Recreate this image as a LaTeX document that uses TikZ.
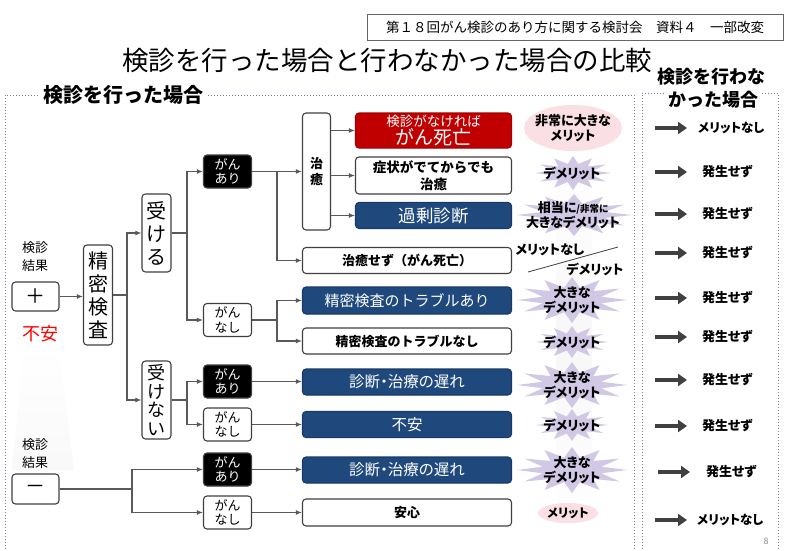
\documentclass[tikz,border=0pt]{standalone}
\usepackage{fontspec}
\setmainfont{Noto Sans CJK JP}
\newfontfamily\jpp{Noto Sans CJK JP}[RawFeature=+palt]
\usetikzlibrary{arrows.meta,shapes.geometric,calc}
\definecolor{lineC}{RGB}{64,64,64}
\definecolor{connC}{RGB}{89,89,89}
\definecolor{navy}{RGB}{31,73,125}
\definecolor{redC}{RGB}{192,0,0}
\definecolor{lav}{RGB}{208,200,228}
\definecolor{pinkC}{RGB}{250,224,228}
\definecolor{dotC}{RGB}{110,130,165}
\newcommand\fs[2]{\fontsize{#1}{#2}\selectfont}
\newcommand\burstat[4]{\fill[lav] plot[samples at={0,15,...,345}, variable=\t] ({#1+cos(\t)*#3*(1-0.45*mod(round(\t/15),2))}, {#2+sin(\t)*#4*(1-0.45*mod(round(\t/15),2))}) -- cycle;}
\begin{document}
\begin{tikzpicture}[x=1pt,y=-1pt,
  box/.style={draw=lineC, line width=1.1pt, rounded corners=3.5pt, fill=white, inner sep=0pt, align=center},
  blackbox/.style={box, fill=black, text=white},
  bluebox/.style={box, fill=navy, draw=navy!80!black, text=white},
  redbox/.style={box, fill=redC, draw=redC!85!black, text=white},
  gbox/.style={minimum width=48, minimum height=33, font=\fs{13}{14.5}},
  wide/.style={minimum width=209, minimum height=26},
  conn/.style={draw=connC, line width=1.2pt},
  arr/.style={conn, -{Latex[length=6pt,width=5pt]}},
  lbl/.style={font=\jpp\bfseries\fs{13}{15.5}, align=center, inner sep=0pt},
  bigarr/.style={draw=lineC, line width=4.5pt, -{Triangle[length=9pt,width=12pt]}},
  rtxt/.style={font=\jpp\bfseries\fs{13}{15}, anchor=west, inner sep=0pt}
]
\useasboundingbox (0,0) rectangle (800,551);
\fill[white] (0,0) rectangle (800,551);

% header and title
\node[draw=lineC!80, line width=0.8pt, minimum width=416, minimum height=26, font=\fs{13.5}{15}, inner sep=0pt] (hdr) at (575,27) {第１８回がん検診のあり方に関する検討会　資料４　一部改変};
\node[font=\fs{26.5}{28}, inner sep=0pt] (title) at (387,60) {検診を行った場合と行わなかった場合の比較};

% frames
\draw[dotC, dotted, line width=1pt] (5,555) -- (5,95) -- (634,95) -- (634,555);
\draw[dotC, dotted, line width=1pt] (642,555) -- (642,93) -- (778,93) -- (778,555);
\node[fill=white, font=\bfseries\fs{20}{22}, inner sep=3pt] (lf) at (123,95) {検診を行った場合};
\node[font=\bfseries\fs{18}{20}, inner sep=0pt] (rf1) at (711,77) {検診を行わな};
\node[fill=white, font=\bfseries\fs{18}{20}, inner sep=2pt] (rf2) at (713,100) {かった場合};

% faint backgrounds
\shade[top color=white, bottom color=black!2.5] (24,345) -- (58,345) -- (74,470) -- (12,470) -- cycle;
\shade[top color=white, bottom color=white, middle color=black!3] (556,150) rectangle (592,535);

% left column
\node[font=\fs{13}{18}, align=center, inner sep=0pt] (kk1) at (35,257) {検診\\結果};
\node[box, minimum width=47, minimum height=29, font=\fs{20}{20}] (plus) at (35.5,296.5) {＋};
\node[font=\fs{18}{20}, text=red, inner sep=0pt] (fuan0) at (40,334) {不安};
\node[font=\fs{13}{18}, align=center, inner sep=0pt] (kk2) at (35,454) {検診\\結果};
\node[box, minimum width=47, minimum height=30, font=\fs{20}{20}] (minus) at (35.5,489) {－};

\node[box, minimum width=29, minimum height=100, font=\fs{20}{23}] (pm) at (98,295) {精\\密\\検\\査};
\node[box, minimum width=29, minimum height=78, font=\fs{20}{23}] (ukeru) at (156.5,233) {受\\け\\る};
\node[box, minimum width=29, minimum height=78, font=\fs{18}{18.5}] (ukenai) at (156.5,400) {受\\け\\な\\い};

\node[blackbox, gbox] (ga1) at (227.5,171.5) {がん\\あり};
\node[box, gbox] (gn1) at (227.5,320) {がん\\なし};
\node[blackbox, gbox] (ga2) at (227.5,381.5) {がん\\あり};
\node[box, gbox] (gn2) at (227.5,424.5) {がん\\なし};
\node[blackbox, gbox] (ga3) at (227.5,469.5) {がん\\あり};
\node[box, gbox] (gn3) at (227.5,512.5) {がん\\なし};

\node[box, minimum width=28, minimum height=117, font=\bfseries\fs{13}{16}] (chiyu) at (316.5,171.5) {治\\癒};

\node[redbox, minimum width=156, minimum height=35] (red) at (433.5,130.5) {{\fs{13.5}{15}検診がなければ}\\[-1pt]{\fs{19}{20}がん死亡}};
\node[box, minimum width=156, minimum height=37, font=\bfseries\fs{13.5}{17}] (sym) at (433.5,175.5) {症状がでてからでも\\治癒};
\node[bluebox, minimum width=156, minimum height=26, font=\fs{17.5}{19}] (kajo) at (433.5,215.5) {過剰診断};
\node[box, wide, font=\bfseries\fs{13}{15}] (chisezu) at (407,260.5) {治癒せず（がん死亡）};
\node[bluebox, wide, minimum height=27, font=\fs{15}{17}] (tr1) at (407,300.5) {精密検査のトラブルあり};
\node[box, wide, font=\bfseries\fs{13}{15}] (tr2) at (407,341) {精密検査のトラブルなし};
\node[bluebox, wide, font=\jpp\fs{15.5}{17}] (dl1) at (407,382) {診断・治療の遅れ};
\node[bluebox, wide, font=\fs{15.5}{17}] (fu) at (407,424.5) {不安};
\node[bluebox, wide, font=\jpp\fs{15.5}{17}] (dl2) at (407,470) {診断・治療の遅れ};
\node[box, wide, minimum height=27, font=\bfseries\fs{13}{15}] (anshin) at (407,512.5) {安心};

% connectors
\coordinate (b1) at (127,0);
\coordinate (b2) at (187,0);
\coordinate (b3) at (277,0);
\coordinate (b4) at (132,0);
\draw[arr] (plus.east) -- (plus.east -| pm.west);
\draw[conn] (pm.east) -- (pm.east -| b1);
\draw[arr] (pm.east -| b1) |- (ukeru.west);
\draw[arr] (pm.east -| b1) |- (ukenai.west);
\draw[conn] (ukeru.east) -- (ukeru.east -| b2);
\draw[arr] (ukeru.east -| b2) |- (ga1.west);
\draw[arr] (ukeru.east -| b2) |- (gn1.west);
\draw[conn] (ukenai.east) -- (ukenai.east -| b2);
\draw[arr] (ukenai.east -| b2) |- (ga2.west);
\draw[arr] (ukenai.east -| b2) |- (gn2.west);
\draw[conn] (minus.east) -- (minus.east -| b4);
\draw[arr] (minus.east -| b4) |- (ga3.west);
\draw[arr] (minus.east -| b4) |- (gn3.west);
\draw[arr] (ga1.east) -- (ga1.east -| chiyu.west);
\draw[arr] (ga1.east -| b3) |- (chisezu.west);
\draw[conn] (gn1.east) -- (gn1.east -| b3);
\draw[arr] (gn1.east -| b3) |- (tr1.west);
\draw[arr] (gn1.east -| b3) |- (tr2.west);
\draw[arr] (chiyu.east |- red.west) -- (red.west);
\draw[arr] (chiyu.east |- sym.west) -- (sym.west);
\draw[arr] (chiyu.east |- kajo.west) -- (kajo.west);
\draw[arr] (ga2.east) -- (ga2.east -| dl1.west);
\draw[arr] (gn2.east) -- (gn2.east -| fu.west);
\draw[arr] (ga3.east) -- (ga3.east -| dl2.west);
\draw[arr] (gn3.east) -- (gn3.east -| anshin.west);

% evaluation column
\fill[pinkC] (573,128) ellipse [x radius=49, y radius=23];
\fill[pinkC] (568,513) ellipse [x radius=30, y radius=10];
\burstat{573}{173}{38}{17}
\burstat{574}{215}{58}{21}
\burstat{572}{300}{55}{23}
\burstat{572}{342}{36}{16}
\burstat{572}{385}{55}{23}
\burstat{572}{425}{36}{16}
\burstat{572}{470}{55}{23}
\node[lbl] (v1) at (573,128) {非常に大きな\\メリット};
\node[lbl] (v2) at (572,173) {デメリット};
\node[lbl] (v3) at (573,215) {相当に{\fs{9.5}{10}/非常に}\\大きなデメリット};
\node[lbl] (v4a) at (550,250) {メリットなし};
\node[lbl] (v4b) at (595,269) {デメリット};
\coordinate (sl1) at (528,272);
\coordinate (sl2) at (618,247);
\draw[lineC, line width=0.8pt] (sl1) -- (sl2);
\node[lbl] (v5) at (572,300) {大きな\\デメリット};
\node[lbl] (v6) at (572,342) {デメリット};
\node[lbl] (v7) at (572,385) {大きな\\デメリット};
\node[lbl] (v8) at (572,425) {デメリット};
\node[lbl] (v9) at (572,470) {大きな\\デメリット};
\node[lbl, font=\jpp\bfseries\fs{12}{14}] (v10) at (568,513) {メリット};

% without screening column
\node[rtxt, font=\jpp\bfseries\fs{12.5}{14}] (r1) at (698,128) {メリットなし};
\node[rtxt] (r2) at (702,172) {発生せず};
\node[rtxt] (r3) at (702,214) {発生せず};
\node[rtxt] (r4) at (702,253) {発生せず};
\node[rtxt] (r5) at (702,298) {発生せず};
\node[rtxt] (r6) at (702,337) {発生せず};
\node[rtxt] (r7) at (702,380) {発生せず};
\node[rtxt] (r8) at (702,426) {発生せず};
\node[rtxt] (r9) at (706,472) {発生せず};
\node[rtxt, font=\jpp\bfseries\fs{12.5}{14}] (r10) at (697,520) {メリットなし};
\foreach \n/\s in {r1/655,r2/655,r3/655,r4/655,r5/655,r6/655,r7/655,r8/655,r9/658,r10/655}{
  \draw[bigarr] (\s,0 |- \n.west) -- ([xshift=32pt] \s,0 |- \n.west);
}
\node[font=\fs{9}{10}, text=black!45, inner sep=0pt] (pg) at (766,541) {8};
\end{tikzpicture}
\end{document}
